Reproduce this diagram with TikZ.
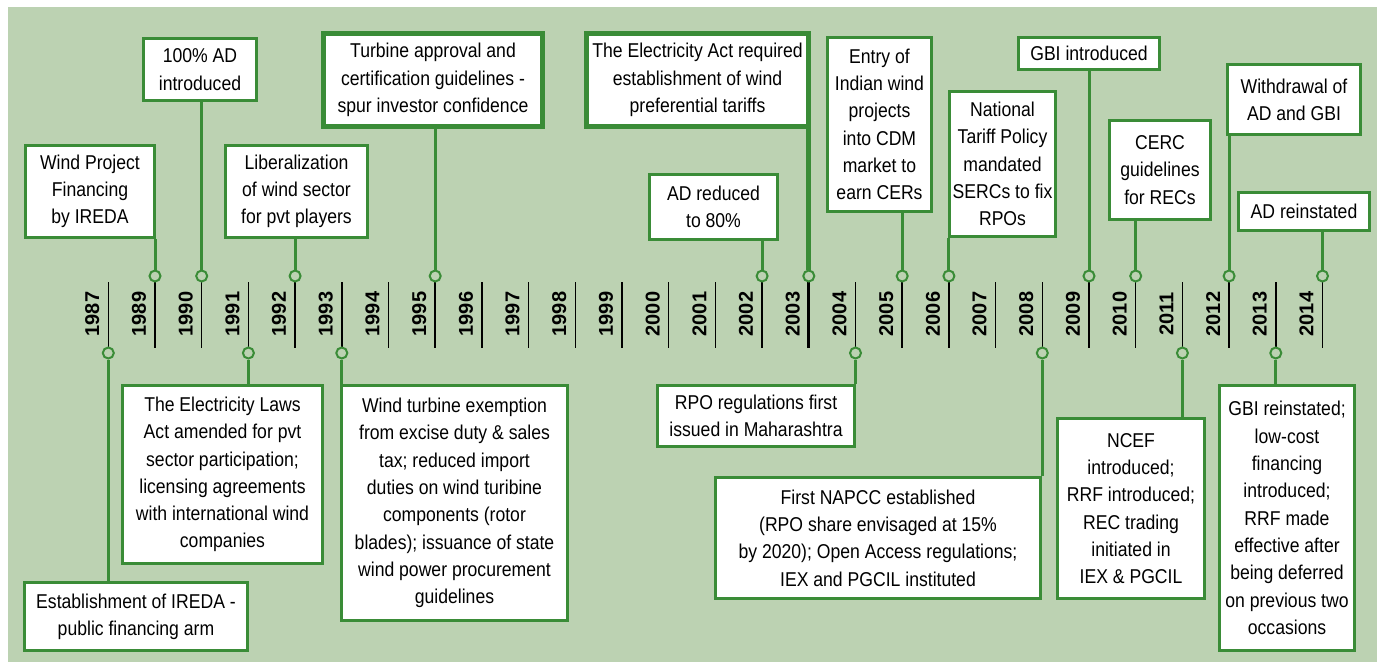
\documentclass[tikz,border=0pt]{standalone}
\usepackage{fontspec}
\setmainfont{Liberation Sans}
\newfontfamily\boxfont[FakeStretch=0.88]{Liberation Sans}

\definecolor{bggreen}{RGB}{188,210,178}
\definecolor{tlgreen}{RGB}{58,140,55}

\tikzset{
    evbox/.style={draw=tlgreen, line width=3.5pt, fill=white, align=center, inner sep=0pt,
        font=\boxfont\fontsize{20}{27.3}\selectfont},
    bigbox/.style={evbox, line width=5pt},
    stem/.style={draw=tlgreen, line width=3pt},
    dot/.style={circle, draw=tlgreen, line width=2pt, fill=bggreen, minimum size=11pt, inner sep=0pt},
    yeartick/.style={line width=1.5pt},
    yearlbl/.style={rotate=90, inner sep=0pt, font=\bfseries\fontsize{20}{20}\selectfont},
}

\begin{document}
\begin{tikzpicture}[x=1pt, y=-1pt]

% page and panel
\fill[white] (0,0) rectangle (1381,662);
\useasboundingbox (0,0) rectangle (1381,662);
\fill[bggreen] (8,7) rectangle (1377,662);

% STEP 1: the year axis
\foreach \yr [count=\i from 0] in {1987,1989,1990,1991,1992,1993,1994,1995,1996,1997,1998,1999,2000,
        2001,2002,2003,2004,2005,2006,2007,2008,2009,2010,2011,2012,2013,2014} {
    \coordinate (t\yr) at ({108.3+46.7*\i},282);
    \draw[yeartick] (t\yr) -- ++(0,66);
    \node[yearlbl] (y\yr) at ([xshift=-16pt]t\yr |- 0,314) {\yr};
}
\draw[line width=3pt] (t2003) -- ++(0,66);

% STEP 2: dots above and below the axis
\foreach \yr in {1989,1990,1992,1995,2002,2003,2005,2006,2009,2010,2012,2014}
    \node[dot] (u\yr) at ([yshift=6pt]t\yr) {};
\foreach \yr in {1987,1991,1993,2004,2008,2011,2013}
    \node[dot] (b\yr) at ([yshift=-71pt]t\yr) {};

% STEP 3: events above the axis
\node[evbox, minimum width=129pt, minimum height=92pt] (wpf) at (90,191.5)
    {Wind Project\\Financing\\by IREDA};
\node[evbox, minimum width=113pt, minimum height=62pt] (ad100) at (200,69.5)
    {100\% AD\\introduced};
\node[evbox, minimum width=142pt, minimum height=92pt] (lib) at (296.5,191.5)
    {Liberalization\\of wind sector\\for pvt players};
\node[bigbox, minimum width=219pt, minimum height=93pt] (turb) at (433,80)
    {Turbine approval and\\certification guidelines -\\spur investor confidence};
\node[bigbox, minimum width=222pt, minimum height=93pt] (eact) at (697.5,80)
    {The Electricity Act required\\establishment of wind\\preferential tariffs};
\node[evbox, minimum width=128pt, minimum height=65pt] (ad80) at (713.5,207)
    {AD reduced\\to 80\%};
\node[evbox, minimum width=104pt, minimum height=174pt] (cdm) at (879.5,124.5)
    {Entry of\\Indian wind\\projects\\into CDM\\market to\\earn CERs};
\node[evbox, minimum width=106pt, minimum height=145pt] (ntp) at (1002.5,164)
    {National\\Tariff Policy\\mandated\\SERCs to fix\\RPOs};
\node[evbox, minimum width=141pt, minimum height=32pt] (gbi) at (1089,53.5)
    {GBI introduced};
\node[evbox, minimum width=101pt, minimum height=99pt] (cerc) at (1160,170)
    {CERC\\guidelines\\for RECs};
\node[evbox, minimum width=133pt, minimum height=70pt] (wdr) at (1294,99.5)
    {Withdrawal of\\AD and GBI};
\node[evbox, minimum width=131pt, minimum height=38pt] (adre) at (1304,211.5)
    {AD reinstated};

% STEP 4: events below the axis
\node[evbox, minimum width=223pt, minimum height=68pt] (ireda) at (136,616.5)
    {Establishment of IREDA -\\public financing arm};
\node[evbox, minimum width=200pt, minimum height=178pt] (ela) at (222.5,474.5)
    {The Electricity Laws\\Act amended for pvt\\sector participation;\\licensing agreements\\with international wind\\companies};
\node[evbox, minimum width=226pt, minimum height=235pt] (wte) at (454.5,503)
    {Wind turbine exemption\\from excise duty \& sales\\tax; reduced import\\duties on wind turibine\\components (rotor\\blades); issuance of state\\wind power procurement\\guidelines};
\node[evbox, minimum width=197pt, minimum height=61pt] (rpo) at (756,416)
    {RPO regulations first\\issued in Maharashtra};
\node[evbox, minimum width=325pt, minimum height=121pt] (napcc) at (878,538)
    {First NAPCC established\\(RPO share envisaged at 15\%\\by 2020); Open Access regulations;\\IEX and PGCIL instituted};
\node[evbox, minimum width=147pt, minimum height=180pt] (ncef) at (1131,508.5)
    {NCEF\\introduced;\\RRF introduced;\\REC trading\\initiated in\\IEX \& PGCIL};
\node[evbox, minimum width=135pt, minimum height=265pt] (gbire) at (1287,518)
    {GBI reinstated;\\low-cost\\financing\\introduced;\\RRF made\\effective after\\being deferred\\on previous two\\occasions};

% STEP 5: stems from the dots to the boxes
\draw[stem] (u1989) -- (u1989 |- wpf.south);
\draw[stem] (u1990) -- (u1990 |- ad100.south);
\draw[stem] (u1992) -- (u1992 |- lib.south);
\draw[stem] (u1995) -- (u1995 |- turb.south);
\draw[stem] (u2002) -- (u2002 |- ad80.south);
\draw[stem, line width=5pt] (u2003) -- (u2003 |- eact.south);
\draw[stem] (u2005) -- (u2005 |- cdm.south);
\draw[stem] (u2006) -- (u2006 |- ntp.south);
\draw[stem] (u2009) -- (u2009 |- gbi.south);
\draw[stem] (u2010) -- (u2010 |- cerc.south);
\draw[stem] (u2012) -- (u2012 |- wdr.south);
\draw[stem] (u2014) -- (u2014 |- adre.south);

\draw[stem] (b1987) -- (b1987 |- ireda.north);
\draw[stem] (b1991) -- (b1991 |- ela.north);
\draw[stem] (b1993) -- (b1993 |- wte.north);
\draw[stem] (b2004) -- (b2004 |- rpo.north);
\draw[stem] (b2008) -- (b2008 |- napcc.north);
\draw[stem] (b2011) -- (b2011 |- ncef.north);
\draw[stem] (b2013) -- (b2013 |- gbire.north);

\end{tikzpicture}
\end{document}
